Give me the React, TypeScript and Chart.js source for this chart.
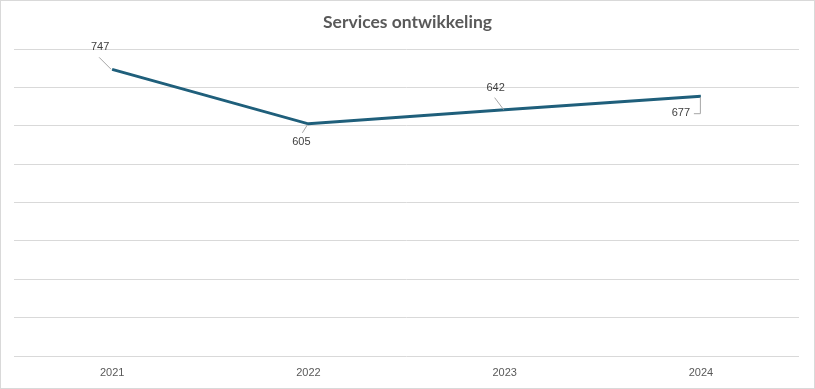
import React, { useEffect, useRef } from "react";
import { Chart, registerables } from "chart.js";

Chart.register(...registerables);

const title = "Services ontwikkeling";
const categories = ["2021", "2022", "2023", "2024"];
const values = [747, 605, 642, 677];
const yTicks = { min: 0, max: 800, step: 100 };
// label placement per point (style, not data)
const labelPlacement = ["upLeft", "down", "upLeft", "leftBracket"];

const LINE_COLOR = "#1f5f7b";
const GRID_COLOR = "#d9d9d9";

const decoPlugin = {
  id: "deco",
  beforeDraw(chart: any) {
    const ctx = chart.ctx;
    ctx.save();
    ctx.fillStyle = "#ffffff";
    ctx.fillRect(0, 0, chart.width, chart.height);
    ctx.strokeStyle = "#d9d9d9";
    ctx.lineWidth = 1;
    ctx.strokeRect(0.5, 0.5, chart.width - 1, chart.height - 1);
    ctx.fillStyle = "#595959";
    ctx.font = "bold 17.5px Lato";
    ctx.textAlign = "center";
    ctx.textBaseline = "middle";
    ctx.fillText(title, chart.width / 2, 22);
    ctx.restore();
  },
  afterDatasetsDraw(chart: any) {
    const ctx = chart.ctx;
    const meta = chart.getDatasetMeta(0);
    ctx.save();
    ctx.font = "11px 'Liberation Sans'";
    ctx.fillStyle = "#404040";
    ctx.textAlign = "center";
    ctx.textBaseline = "middle";
    ctx.strokeStyle = "#a6a6a6";
    ctx.lineWidth = 1;
    meta.data.forEach((pt: any, i: number) => {
      const x = pt.x;
      const y = pt.y;
      const v = String(values[i]);
      const p = labelPlacement[i];
      ctx.beginPath();
      if (p === "upLeft") {
        const tx = x - (i === 0 ? 12 : 9);
        const ty = y - 22;
        ctx.fillText(v, tx, ty);
        ctx.moveTo(tx - 1, ty + 10);
        ctx.lineTo(x - 1, y);
      } else if (p === "down") {
        const tx = x - 7;
        const ty = y + 18;
        ctx.fillText(v, tx, ty);
        ctx.moveTo(tx + 1, ty - 9);
        ctx.lineTo(x - 1, y + 1);
      } else {
        const tx = x - 20;
        const ty = y + 17;
        ctx.fillText(v, tx, ty);
        ctx.moveTo(x - 7, ty + 0.5);
        ctx.lineTo(x - 0.5, ty + 0.5);
        ctx.lineTo(x - 0.5, y + 1);
      }
      ctx.stroke();
    });
    ctx.restore();
  },
};

export default function App() {
  const ref = useRef<HTMLCanvasElement>(null);
  useEffect(() => {
    if (!ref.current) return;
    const chart = new Chart(ref.current, {
      type: "line",
      data: {
        labels: categories,
        datasets: [
          {
            data: values,
            borderColor: LINE_COLOR,
            borderWidth: 3,
            pointRadius: 0,
            tension: 0,
            fill: false,
          },
        ],
      },
      options: {
        animation: false,
        responsive: false,
        layout: { padding: { left: 14, right: 16, top: 49, bottom: 0 } },
        plugins: { legend: { display: false }, tooltip: { enabled: false }, title: { display: false } },
        scales: {
          x: {
            offset: true,
            grid: { display: false, drawTicks: false },
            border: { display: false },
            ticks: { color: "#595959", font: { family: "'Liberation Sans'", size: 11 }, padding: 10 },
            afterFit: (s: any) => {
              s.height = 33;
            },
          },
          y: {
            min: yTicks.min,
            max: yTicks.max,
            ticks: { stepSize: yTicks.step, display: false },
            grid: { color: GRID_COLOR, drawTicks: false, lineWidth: 1 },
            border: { display: false },
          },
        },
      },
      plugins: [decoPlugin],
    });
    return () => chart.destroy();
  }, []);
  return (
    <div style={{ position: "fixed", left: 0, top: 0, width: 815, height: 389 }}>
      <canvas ref={ref} width={815} height={389} style={{ display: "block" }} />
    </div>
  );
}
